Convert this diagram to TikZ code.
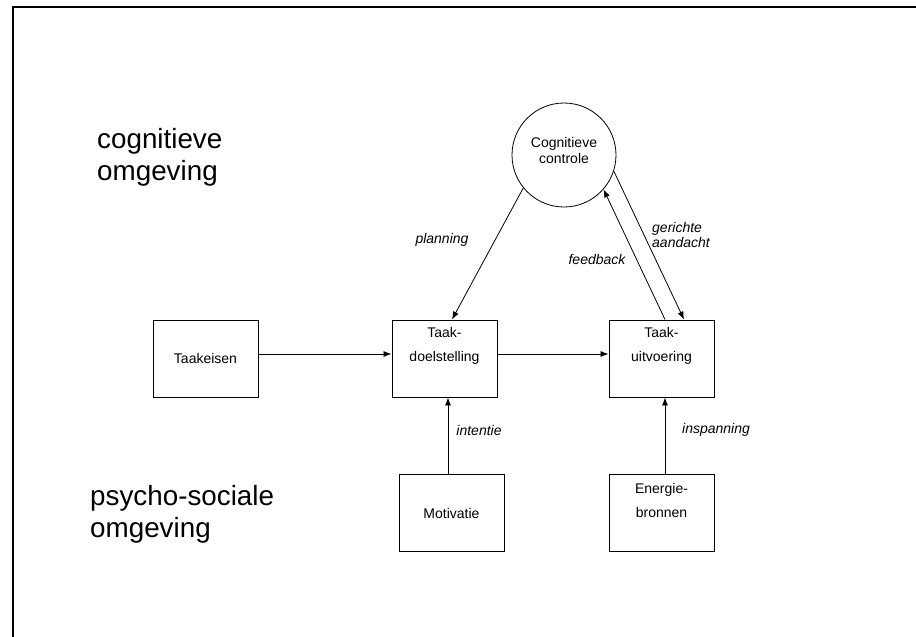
\documentclass[tikz,border=0pt]{standalone}
\usepackage{fontspec}
\setmainfont{Liberation Sans}
\usetikzlibrary{arrows.meta}

\begin{document}
\begin{tikzpicture}[x=1pt,y=-1pt,
  box/.style={draw,line width=0.9pt,minimum width=105pt,minimum height=77pt,inner sep=0pt},
  txt/.style={inner sep=0pt,align=center,font=\fontsize{14}{24}\selectfont},
  lbl/.style={inner sep=0pt,align=left,font=\fontsize{14}{15}\selectfont\itshape},
  big/.style={inner sep=0pt,anchor=west,align=left,font=\fontsize{27.8}{32}\selectfont},
  arr/.style={line width=0.8pt,-{Latex[length=8pt,width=6pt]}}]
\useasboundingbox (0,0) rectangle (916,637);
\draw[line width=2pt] (13,660) -- (13,7) -- (930,7);

\node[big] (cog) at (97,157) {cognitieve\\omgeving};
\node[big] (psy) at (90,514) {psycho-sociale\\omgeving};

\node[draw,circle,line width=0.8pt,minimum size=104pt,inner sep=0pt] (circ) at (564,155) {};
\node[txt,font=\fontsize{14}{16}\selectfont] (circ-t) at ([yshift=5pt]circ.center) {Cognitieve\\controle};

\node[box] (eisen) at (205.5,358.5) {};
\node[txt] (eisen-t) at (eisen.center) {Taakeisen};
\node[box] (doel) at (444.5,358.5) {};
\node[txt] (doel-t) at ([yshift=-26pt]doel.north) {Taak-\\doelstelling};
\node[box] (uitv) at (661.5,358.5) {};
\node[txt] (uitv-t) at ([yshift=-26pt]uitv.north) {Taak-\\uitvoering};
\node[box] (mot) at (451.5,513) {};
\node[txt] (mot-t) at (mot.center) {Motivatie};
\node[box] (en) at (661.5,513) {};
\node[txt] (en-t) at ([yshift=-26pt]en.north) {Energie-\\bronnen};

\draw[arr] ([yshift=4.5pt]eisen.east) -- ([yshift=4.5pt]doel.west);
\draw[arr] ([yshift=4.5pt]doel.east) -- ([yshift=4.5pt]uitv.west);
\draw[arr] (circ.219) -- ([xshift=7.5pt]doel.north);
\draw[arr] ([xshift=3.5pt]uitv.north) -- (circ.319);
\draw[arr] (circ.342) -- ([xshift=22.5pt]uitv.north);
\draw[arr] ([xshift=-3.5pt]mot.north) -- ([xshift=-3.5pt]mot.north |- doel.south);
\draw[arr] ([xshift=3.5pt]en.north) -- ([xshift=3.5pt]en.north |- uitv.south);

\node[lbl] (plan) at (442,240) {planning};
\node[lbl] (feed) at (597,259) {feedback};
\node[lbl,anchor=west] (gericht) at (652,235) {gerichte\\aandacht};
\node[lbl] (int) at (479,430) {intentie};
\node[lbl] (insp) at (716,430) {inspanning};
\end{tikzpicture}
\end{document}
